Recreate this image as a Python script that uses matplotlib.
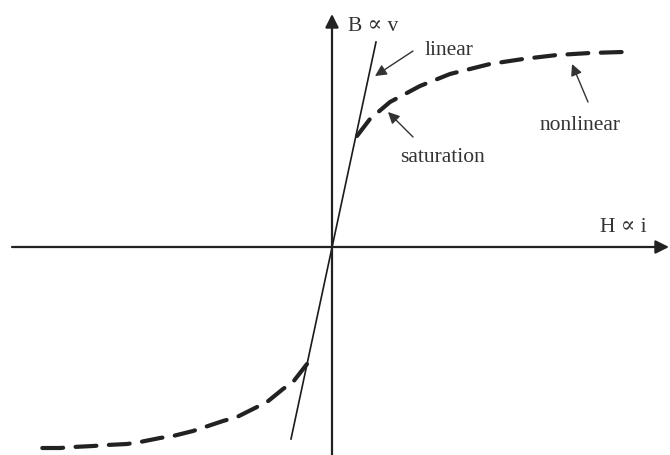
import matplotlib.pyplot as plt

# saturation curve sketch: B vs H (coordinates, origin at axes crossing)
linear_h = [-41, 44]
linear_b = [-192, 205]

upper_h = [25, 38, 58, 88, 118, 158, 191, 225, 258, 291]
upper_b = [111, 128, 145, 161, 173, 183, 188, 192, 194, 195]

lower_h = [-25, -39, -49, -65, -79, -95, -109, -127, -139, -159, -172, -192, -205, -225, -239, -259, -272, -292]
lower_b = [-117, -135, -142, -155, -162, -170, -174, -180, -184, -189, -191, -195, -197, -198, -199, -200, -201, -201]

plt.rcParams['font.family'] = ['Liberation Serif', 'DejaVu Serif']

fig = plt.figure(figsize=(6.7, 4.56), dpi=100)
ax = fig.add_axes([0, 0, 1, 1])
ax.set_xlim(-332, 338)
ax.set_ylim(-208, 248)
ax.axis('off')

# axes with arrows
axis_col = '#222222'
ax.annotate('', xy=(337, 0), xytext=(-320, 0),
            arrowprops=dict(arrowstyle='-|>', lw=1.6, color=axis_col, mutation_scale=20, shrinkA=0, shrinkB=0))
ax.annotate('', xy=(0, 233), xytext=(0, -210),
            arrowprops=dict(arrowstyle='-|>', lw=1.6, color=axis_col, mutation_scale=20, shrinkA=0, shrinkB=0))

# curves
ax.plot(linear_h, linear_b, color='#1a1a1a', lw=1.2)
ax.plot(upper_h, upper_b, color='#222222', lw=3.0, linestyle=(0, (5, 3)), dash_capstyle='round')
ax.plot(lower_h, lower_b, color='#222222', lw=3.0, linestyle=(0, (5, 3)), dash_capstyle='round')

# labels
txt_col = '#333333'
fs = 15.5
ax.text(16, 222, 'B ∝ v', fontsize=fs, color=txt_col, va='center')
ax.text(268, 20, 'H ∝ i', fontsize=fs, color=txt_col, va='center')
ax.text(93, 198, 'linear', fontsize=fs, color=txt_col, va='center')
ax.text(68, 91, 'saturation', fontsize=fs, color=txt_col, va='center')
ax.text(208, 123, 'nonlinear', fontsize=fs, color=txt_col, va='center')

arrow = dict(arrowstyle='-|>', lw=1.0, color='#333333', mutation_scale=17, shrinkA=0, shrinkB=0)
ax.annotate('', xy=(43, 171), xytext=(81, 196), arrowprops=arrow)
ax.annotate('', xy=(56, 135), xytext=(81, 110), arrowprops=arrow)
ax.annotate('', xy=(240, 183), xytext=(256, 145), arrowprops=arrow)

fig.savefig('out.png', dpi=100)
